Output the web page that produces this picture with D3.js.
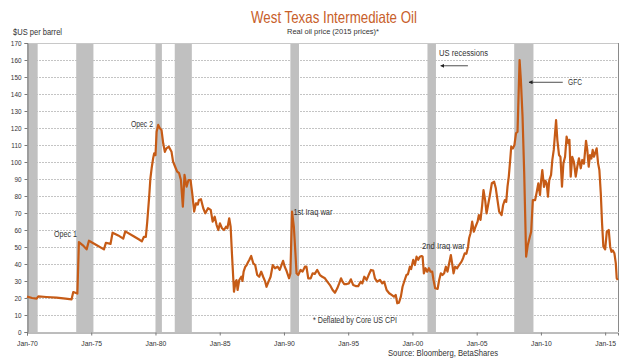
<!DOCTYPE html>
<html><head><meta charset="utf-8">
<script src="https://cdn.jsdelivr.net/npm/d3@7"></script>
<style>
html,body{margin:0;padding:0;background:#fff;}
svg{display:block;}
text{font-family:'Liberation Sans Narrow','Arial Narrow','Liberation Sans',Arial,sans-serif;}
</style></head>
<body>
<svg id="chart" width="640" height="360"></svg>
<script>
const years = [1970.00,1970.40,1970.75,1970.88,1971.5,1972.3,1973.0,1973.47,1973.6,1973.92,1974.04,1974.35,1974.64,1974.82,1975.4,1975.99,1976.14,1976.5,1976.66,1977.1,1977.49,1977.65,1978.3,1978.79,1978.94,1979.1,1979.25,1979.36,1979.51,1979.6,1979.7,1979.82,1979.9,1980.0,1980.09,1980.21,1980.34,1980.47,1980.6,1980.73,1980.85,1981.04,1981.25,1981.37,1981.53,1981.69,1981.84,1981.98,1982.13,1982.26,1982.42,1982.57,1982.73,1982.86,1983.01,1983.15,1983.3,1983.38,1983.54,1983.72,1983.88,1984.09,1984.3,1984.45,1984.61,1984.76,1984.89,1985.02,1985.18,1985.33,1985.49,1985.6,1985.74,1985.85,1985.95,1986.11,1986.24,1986.31,1986.39,1986.52,1986.68,1986.77,1986.86,1986.99,1987.1,1987.2,1987.3,1987.45,1987.61,1987.76,1987.92,1988.07,1988.23,1988.38,1988.54,1988.64,1988.8,1988.96,1989.13,1989.3,1989.5,1989.67,1989.93,1990.06,1990.2,1990.4,1990.5,1990.63,1990.77,1990.9,1990.98,1991.11,1991.29,1991.45,1991.63,1991.75,1991.89,1992.08,1992.23,1992.4,1992.59,1992.8,1992.98,1993.19,1993.37,1993.58,1993.79,1993.97,1994.15,1994.3,1994.44,1994.56,1994.69,1994.88,1995.06,1995.21,1995.39,1995.58,1995.78,1995.97,1996.1,1996.25,1996.43,1996.59,1996.77,1996.95,1997.08,1997.26,1997.47,1997.65,1997.8,1997.99,1998.19,1998.38,1998.56,1998.7,1998.82,1998.95,1999.1,1999.23,1999.4,1999.53,1999.65,1999.8,1999.9,2000.06,2000.19,2000.32,2000.45,2000.58,2000.71,2000.79,2000.89,2001.02,2001.15,2001.28,2001.41,2001.54,2001.64,2001.77,2001.96,2002.08,2002.21,2002.34,2002.47,2002.6,2002.73,2002.86,2002.99,2003.09,2003.2,2003.32,2003.48,2003.63,2003.82,2003.94,2004.07,2004.2,2004.33,2004.41,2004.52,2004.65,2004.78,2004.91,2005.07,2005.17,2005.3,2005.43,2005.53,2005.66,2005.77,2005.89,2006.03,2006.18,2006.36,2006.49,2006.62,2006.75,2006.94,2007.06,2007.19,2007.3,2007.4,2007.5,2007.61,2007.69,2007.82,2007.94,2008.06,2008.18,2008.34,2008.44,2008.57,2008.7,2008.85,2008.98,2009.11,2009.24,2009.37,2009.55,2009.68,2009.8,2009.93,2010.01,2010.11,2010.24,2010.35,2010.45,2010.55,2010.65,2010.79,2010.89,2011.0,2011.1,2011.18,2011.28,2011.41,2011.52,2011.64,2011.75,2011.88,2012.0,2012.13,2012.22,2012.32,2012.44,2012.57,2012.71,2012.83,2012.96,2013.1,2013.22,2013.35,2013.51,2013.61,2013.72,2013.82,2013.93,2014.03,2014.13,2014.26,2014.34,2014.45,2014.55,2014.66,2014.76,2014.86,2015.0,2015.13,2015.28,2015.39,2015.49,2015.6,2015.72,2015.83,2015.9,2015.98];
const prices = [20.8,20.0,19.6,21.0,20.6,20.2,19.6,19.2,23.5,22.6,52.9,51.0,48.6,53.7,51.2,48.6,52.5,51.8,58.4,56.8,54.9,59.2,56.3,54.1,53.3,56.0,56.0,64.9,79.6,90,96.3,102.2,105.1,104,117.8,121.8,119.8,118.8,111,106,108,109,106,100.2,97.2,94.3,93.4,89.4,73.7,92.4,85.5,89.4,89.4,81.6,70.8,75.7,75,77.6,78.1,72.8,69.8,72.8,71.8,64.9,67.8,62.9,60.0,63.9,61.0,60.0,61.9,61.0,66.9,61.9,46.3,23.7,29.6,30.5,24.7,30.6,32.5,30.0,35.5,38.4,39.4,41,42.4,44.7,40.4,39.4,33.5,32.5,35.5,32.5,29.6,26.6,29.6,32.5,39.4,37.5,38.4,36.5,41.9,38.4,36,31.6,34.5,70.8,61.9,45.3,34.5,33.5,36.5,35.5,38.4,38.4,31.6,31.6,34.5,34.2,36.5,33.5,32.5,31.6,29.6,27.6,24.7,23.1,25.7,28.6,31.6,29.6,28.2,28.2,28.6,31.0,27.6,27.0,27.0,29.6,28.6,32.5,30.6,33.5,36.5,36.1,31.6,29.6,30.6,28.6,29.6,24.7,22.8,21.8,20.8,21.8,16.9,17.2,20.8,26.6,30.6,33.5,34,38.4,37,42.4,39.4,44.3,42.5,44.3,44.7,44.3,34.5,37.5,35.5,37.5,35.5,35.5,30.6,25.7,25.3,30.6,34.5,33.5,34.5,38.4,35.5,40.4,45.3,40.4,34.5,38.4,37.5,39.4,41.4,43.4,46.3,46,50.2,55.1,58.1,64.9,59.0,61.9,64.9,68.8,65.9,74.7,83.5,77.6,69.8,74.7,80.6,87.5,88.4,84.5,77.6,70.8,68.8,74.7,77.6,76.5,85.5,91.4,101.2,109,108,110,116.9,117.8,160,148.2,126.7,93.4,44.3,51.2,55.1,59.0,77.6,77.6,82.5,87.5,80.6,88.4,95.3,85.3,89,87.5,79.6,89.4,92.4,101.2,107.1,116.9,124.7,112.9,104.1,103,85.5,99.2,103.1,114.9,111,113,91.4,103.1,100,91.4,97.2,102.2,96.3,101.2,99,112.5,107.1,97.2,104.1,102,107.1,103.1,106.1,108,99.2,95.3,81.6,63.9,50.2,48.6,59.0,60.0,50.2,47.2,48,46.3,40.4,31.6,30.6];

const recessionStart = [1969.92,1973.83,1980.0,1981.5,1990.5,2001.17,2007.92];
const recessionEnd   = [1970.83,1975.17,1980.5,1982.83,1991.17,2001.83,2009.42];

const xTickYears = [1970,1975,1980,1985,1990,1995,2000,2005,2010,2015];
const xTickLabels = ["Jan-70","Jan-75","Jan-80","Jan-85","Jan-90","Jan-95","Jan-00","Jan-05","Jan-10","Jan-15"];
const yTicks = [0,10,20,30,40,50,60,70,80,90,100,110,120,130,140,150,160,170];

const annotationTexts  = ["Opec 1","Opec 2","1st Iraq war","2nd Iraq war","US recessions","GFC","* Deflated by Core US CPI"];
const annotationYears  = [1972.10, 1978.09, 1990.74, 2000.74, 2002.07, 2012.11, 1992.26];
const annotationValues = [55.9, 120.6, 69.1, 48.8, 162.4, 145.3, 5.3];
const annotationWidths = [23, 22, 39, 43, 49, 14, 84];

const arrowFrom  = [2004.32, 2011.70];
const arrowTo    = [2002.20, 2009.07];
const arrowValue = [156.6, 146.9];

const svg = d3.select("#chart");
const m = {left:27, right:618, top:43, bottom:332};
const x = d3.scaleLinear().domain([1970, 2016]).range([m.left, m.right]);
const y = d3.scaleLinear().domain([0, 170]).range([m.bottom, m.top]);

const txt = "#333";
const orange = "#c65b16";

function fitWidth(sel, w) {
  sel.each(function(d, i) {
    const target = typeof w === "function" ? w(d, i) : w;
    this.setAttribute("textLength", target);
    this.setAttribute("lengthAdjust", "spacingAndGlyphs");
  });
}
function condense(sel, f) {
  sel.each(function() {
    const L = this.getComputedTextLength();
    this.setAttribute("textLength", (L * f).toFixed(2));
    this.setAttribute("lengthAdjust", "spacingAndGlyphs");
  });
}

// gridlines
svg.append("g").selectAll("line").data(yTicks.filter(d => d > 0 && d < 170)).join("line")
  .attr("x1", m.left).attr("x2", m.right)
  .attr("y1", d => Math.round(y(d)) + 0.5).attr("y2", d => Math.round(y(d)) + 0.5)
  .attr("stroke", "#c4c4c4").attr("stroke-width", 1).attr("stroke-dasharray", "2,1");

// recession bands
svg.append("g").selectAll("rect").data(recessionStart.map((s,i)=>[Math.max(s,1970), recessionEnd[i]])).join("rect")
  .attr("x", d => x(d[0])).attr("width", d => x(d[1]) - x(d[0]))
  .attr("y", m.top).attr("height", m.bottom - m.top)
  .attr("fill", "#c0c0c0");

// frame top & right
svg.append("line").attr("x1", m.left).attr("x2", m.right).attr("y1", m.top+0.5).attr("y2", m.top+0.5)
  .attr("stroke", "#c8c8c8");
svg.append("line").attr("x1", m.right+0.5).attr("x2", m.right+0.5).attr("y1", m.top).attr("y2", m.bottom)
  .attr("stroke", "#8a8a8a");

// axes
const yAxis = d3.axisLeft(y).tickValues(yTicks).tickSize(3).tickPadding(3).tickFormat(d3.format("d"));
const gy = svg.append("g").attr("transform", `translate(${m.left+0.5},0)`).call(yAxis);
gy.select(".domain").attr("stroke", "#7a7a7a");
gy.selectAll(".tick line").attr("stroke", "#7a7a7a");
gy.selectAll(".tick text").attr("fill", txt).style("font-size", "7.5px").call(condense, 0.85);

const xAxis = d3.axisBottom(x).tickValues(xTickYears).tickSize(3).tickPadding(5)
  .tickFormat((d,i) => xTickLabels[i]);
const gx = svg.append("g").attr("transform", `translate(0,${m.bottom+0.5})`).call(xAxis);
gx.select(".domain").attr("stroke", "#7a7a7a");
gx.selectAll(".tick line").attr("stroke", "#7a7a7a");
gx.selectAll(".tick text").attr("fill", txt).style("font-size", "8px").call(condense, 0.85);

// line
const line = d3.line().x((d,i) => x(years[i])).y(d => y(d));
svg.append("path").datum(prices).attr("d", line)
  .attr("fill", "none").attr("stroke", orange).attr("stroke-width", 2.2).attr("stroke-linejoin", "round");

// annotations
svg.append("g").selectAll("text").data(annotationTexts).join("text")
  .attr("x", (d,i) => x(annotationYears[i])).attr("y", (d,i) => y(annotationValues[i]))
  .attr("fill", txt).style("font-size", "8.5px").text(d => d)
  .call(fitWidth, (d,i) => annotationWidths[i]);

// arrows
const defs = svg.append("defs");
defs.append("marker").attr("id","ah").attr("viewBox","0 0 10 10").attr("refX",9).attr("refY",5)
  .attr("markerWidth",5).attr("markerHeight",5).attr("orient","auto")
  .append("path").attr("d","M0,0L10,5L0,10z").attr("fill","#222");
svg.append("g").selectAll("line").data(arrowFrom).join("line")
  .attr("x1", d => x(d)).attr("x2", (d,i) => x(arrowTo[i]))
  .attr("y1", (d,i) => y(arrowValue[i])).attr("y2", (d,i) => y(arrowValue[i]))
  .attr("stroke", "#222").attr("stroke-width", 0.8).attr("marker-end", "url(#ah)");

// titles
svg.append("text").attr("x", 334).attr("y", 22.5).attr("text-anchor", "middle")
  .attr("fill", "#c8602a").style("font-size", "16.5px").text("West Texas Intermediate Oil").call(fitWidth, 166);
svg.append("text").attr("x", 333).attr("y", 34).attr("text-anchor", "middle")
  .attr("fill", txt).style("font-size", "8px").text("Real oil price (2015 prices)*").call(fitWidth, 92);
svg.append("text").attr("x", 13).attr("y", 35).attr("fill", txt).style("font-size", "8.5px").text("$US per barrel").call(fitWidth, 49);
svg.append("text").attr("x", 388).attr("y", 356).attr("fill", txt).style("font-size", "9px").text("Source: Bloomberg, BetaShares").call(fitWidth, 110);
</script>
</body></html>
